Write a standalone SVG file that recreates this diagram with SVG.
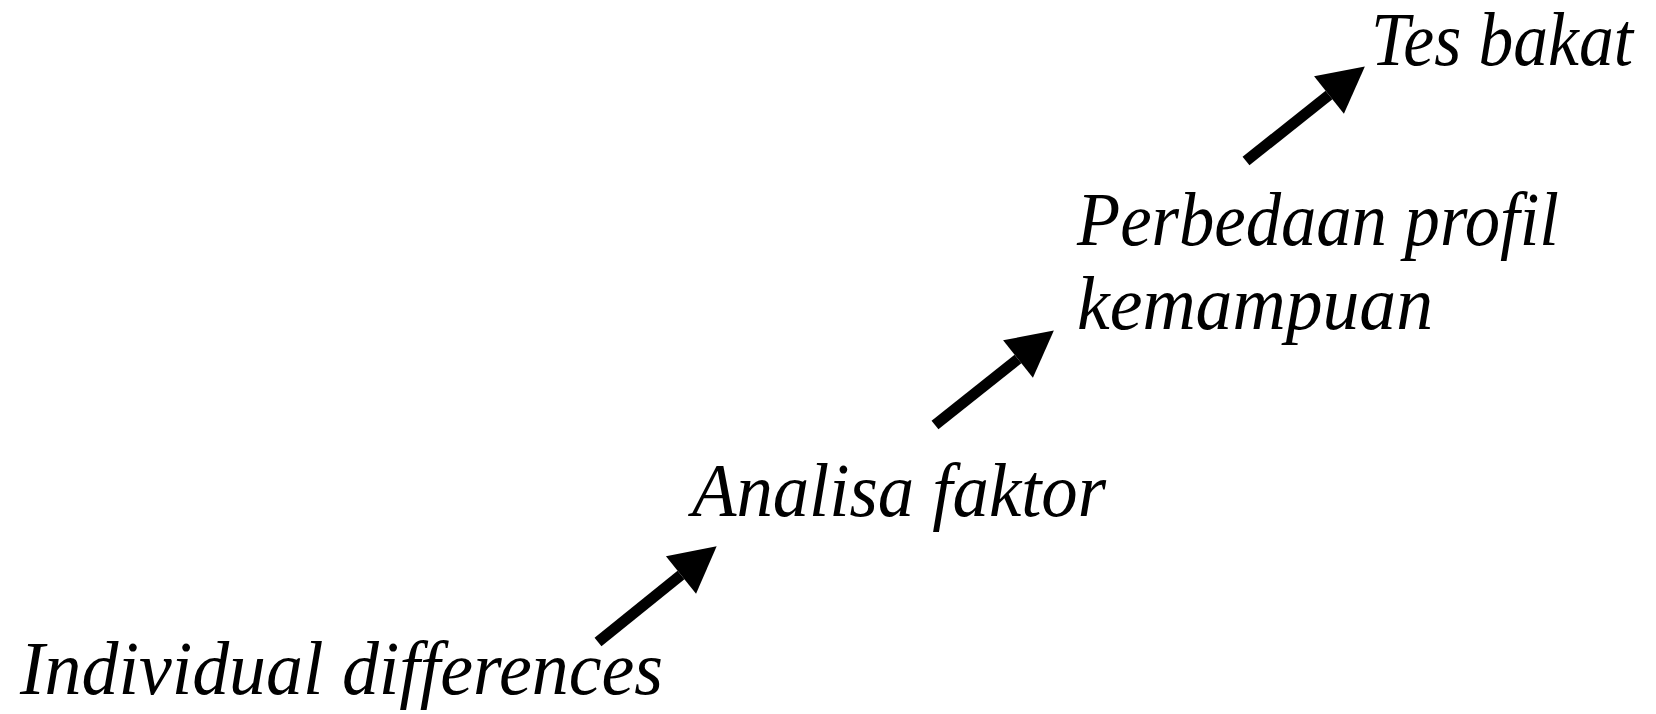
<svg xmlns="http://www.w3.org/2000/svg" width="1656" height="714" viewBox="0 0 1656 714">
<style>
text{font-family:'Liberation Serif','Times New Roman',serif;font-style:italic;font-size:76px;fill:#000}
.arr{stroke:#000;stroke-width:11;fill:none;marker-end:url(#head)}
</style>
<defs>
<marker id="head" markerUnits="userSpaceOnUse" markerWidth="50" markerHeight="50" viewBox="0 -24 46 48" refX="0" refY="0" orient="auto">
<path d="M0,-23 L44,0 L0,23 Z" fill="#000"/>
</marker>
</defs>
<rect width="1656" height="714" fill="#fff"/>
<g id="connectors">
<line class="arr" x1="598" y1="642" x2="681" y2="575"/>
<line class="arr" x1="935" y1="425" x2="1018" y2="359"/>
<line class="arr" x1="1246" y1="161" x2="1329" y2="95"/>
</g>
<g id="node-individual"><text x="20" y="694" textLength="643" lengthAdjust="spacingAndGlyphs">Individual differences</text></g>
<g id="node-analisa"><text x="692" y="516" textLength="414" lengthAdjust="spacingAndGlyphs">Analisa faktor</text></g>
<g id="node-perbedaan"><text x="1077" y="245" textLength="482" lengthAdjust="spacingAndGlyphs">Perbedaan profil</text><text x="1077" y="329" textLength="356" lengthAdjust="spacingAndGlyphs">kemampuan</text></g>
<g id="node-tes"><text x="1371" y="65" textLength="262" lengthAdjust="spacingAndGlyphs">Tes bakat</text></g>
</svg>
